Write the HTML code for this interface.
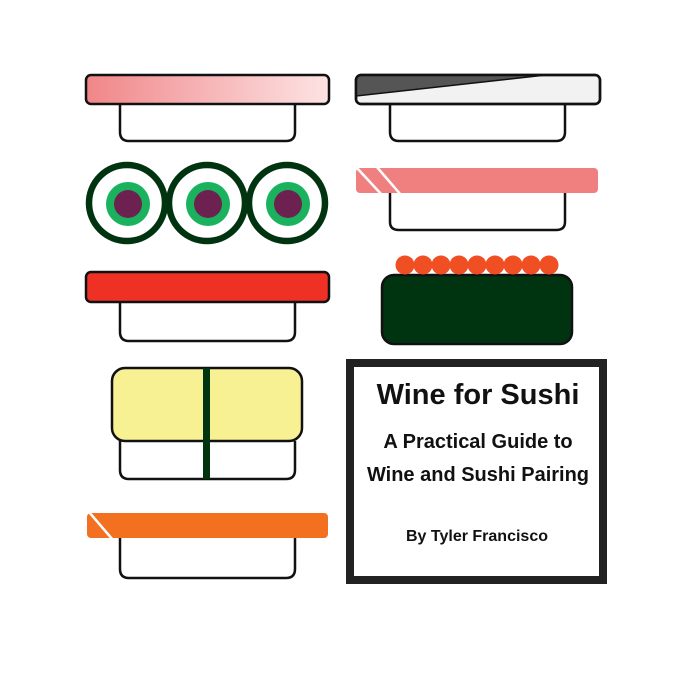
<!DOCTYPE html>
<html><head><style>html,body{margin:0;padding:0;background:#fff;width:700px;height:700px;overflow:hidden}</style></head>
<body>
<svg width="700" height="700" viewBox="0 0 700 700" xmlns="http://www.w3.org/2000/svg">
<defs>
<linearGradient id="g1" x1="0" x2="1" y1="0" y2="0"><stop offset="0" stop-color="#f18587"/><stop offset="0.3" stop-color="#f4a3a5"/><stop offset="1" stop-color="#fde3e3"/></linearGradient>
<clipPath id="c2"><rect x="356" y="76" width="244" height="28" rx="5"/></clipPath>
<clipPath id="c3"><rect x="356" y="168" width="242" height="25" rx="4"/></clipPath>
<clipPath id="c5"><rect x="87" y="513" width="241" height="25" rx="4"/></clipPath>
</defs>
<g stroke="#111" stroke-width="2.5" fill="#fff">
<path d="M120 104 V132 Q120 141 129 141 H286 Q295 141 295 132 V104"/>
<rect x="86" y="75" width="243" height="29" rx="5" fill="url(#g1)"/>
<path d="M390 104 V132 Q390 141 399 141 H556 Q565 141 565 132 V104"/>
<rect x="356" y="75" width="244" height="29" rx="5" fill="#f2f2f2"/>
<polygon points="356,75 546,75 356,96" fill="#555" clip-path="url(#c2)" stroke-width="1.5"/>
<rect x="356" y="75" width="244" height="29" rx="5" fill="none"/>
<path d="M390 193 V222 Q390 230 399 230 H556 Q565 230 565 222 V193"/>
<path d="M120 302 V332 Q120 341 129 341 H286 Q295 341 295 332 V302"/>
<rect x="86" y="272" width="243" height="30" rx="5" fill="#ee3124"/>
<rect x="382" y="275" width="190" height="69" rx="12" fill="#003310"/>
<path d="M120 441 V470 Q120 479 129 479 H286 Q295 479 295 470 V441"/>
<rect x="112" y="368" width="190" height="73" rx="13" fill="#f8f194"/>
<path d="M120 538 V569 Q120 578 129 578 H286 Q295 578 295 569 V538"/>
</g>
<rect x="356" y="168" width="242" height="25" rx="4" fill="#f08080"/>
<g clip-path="url(#c3)" stroke="#fff" stroke-width="2.5">
<line x1="357" y1="168" x2="382" y2="195"/><line x1="376" y1="166" x2="401" y2="195"/>
</g>
<rect x="87" y="513" width="241" height="25" rx="4" fill="#f37021"/>
<g clip-path="url(#c5)" stroke="#fff" stroke-width="2.5"><line x1="89" y1="512" x2="113" y2="540"/></g>
<rect x="203" y="368" width="7" height="111" fill="#003310"/>
<g>
<circle cx="127" cy="203" r="38" fill="#fff" stroke="#003310" stroke-width="6.5"/>
<circle cx="207" cy="203" r="38" fill="#fff" stroke="#003310" stroke-width="6.5"/>
<circle cx="287" cy="203" r="38" fill="#fff" stroke="#003310" stroke-width="6.5"/>
<g fill="#1bb25e"><circle cx="128" cy="204" r="22"/><circle cx="208" cy="204" r="22"/><circle cx="288" cy="204" r="22"/></g>
<g fill="#6c2150"><circle cx="128" cy="204" r="14"/><circle cx="208" cy="204" r="14"/><circle cx="288" cy="204" r="14"/></g>
</g>
<g fill="#f04e23">
<circle cx="405" cy="265" r="9.5"/><circle cx="423" cy="265" r="9.5"/><circle cx="441" cy="265" r="9.5"/><circle cx="459" cy="265" r="9.5"/><circle cx="477" cy="265" r="9.5"/><circle cx="495" cy="265" r="9.5"/><circle cx="513" cy="265" r="9.5"/><circle cx="531" cy="265" r="9.5"/><circle cx="549" cy="265" r="9.5"/>
</g>
<rect x="350" y="363" width="253" height="217" fill="#fff" stroke="#222" stroke-width="8"/>
<g font-family="Liberation Sans, sans-serif" font-weight="bold" fill="#111" text-anchor="middle">
<text x="478" y="404" font-size="29">Wine for Sushi</text>
<text x="478" y="448" font-size="20">A Practical Guide to</text>
<text x="478" y="481" font-size="20">Wine and Sushi Pairing</text>
<text x="477" y="541" font-size="16">By Tyler Francisco</text>
</g>
</svg>
</body></html>
